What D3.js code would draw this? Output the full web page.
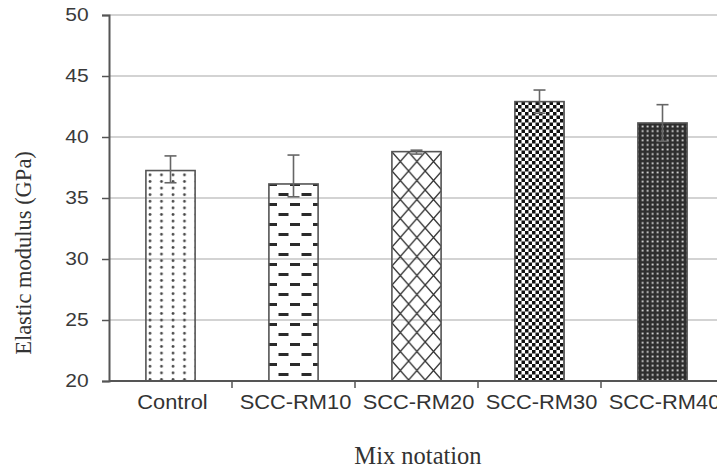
<!DOCTYPE html>
<html>
<head>
<meta charset="utf-8">
<script src="https://cdn.jsdelivr.net/npm/d3@7"></script>
<style>
  body { margin: 0; background: #fff; }
  svg { display: block; }
</style>
</head>
<body>
<div id="chart"></div>
<script>
// values
var categories = ["Control", "SCC-RM10", "SCC-RM20", "SCC-RM30", "SCC-RM40"];
var modulus = [37.25, 36.15, 38.8, 42.9, 41.15];
var errPlus = [1.2, 2.37, 0.12, 0.95, 1.5];
var errMinus = [1.0, 1.05, 0.2, 0.95, 1.5];
var yTicks = [20, 25, 30, 35, 40, 45, 50];
var patternIds = ["p-dots", "p-dash", "p-cross", "p-check", "p-dark"];

var width = 717, height = 468;
var plotLeft = 109, plotTop = 15, plotBottom = 381;

var svg = d3.select("#chart").append("svg")
    .attr("width", width)
    .attr("height", height);

svg.append("rect").attr("width", width).attr("height", height).attr("fill", "#fff");

// fill patterns
var defs = svg.append("defs");

var p = defs.append("pattern").attr("id", "p-dots")
    .attr("patternUnits", "userSpaceOnUse").attr("width", 11.5).attr("height", 6.6)
    .attr("x", 146);
p.append("circle").attr("cx", 4).attr("cy", 3.3).attr("r", 1.4).attr("fill", "#444");

p = defs.append("pattern").attr("id", "p-dash")
    .attr("patternUnits", "userSpaceOnUse").attr("width", 23).attr("height", 20)
    .attr("x", 146);
p.append("rect").attr("x", 6).attr("y", 3).attr("width", 10).attr("height", 3).attr("fill", "#2a2a2a");
p.append("rect").attr("x", -5.5).attr("y", 13).attr("width", 10).attr("height", 3).attr("fill", "#2a2a2a");
p.append("rect").attr("x", 17.5).attr("y", 13).attr("width", 10).attr("height", 3).attr("fill", "#2a2a2a");

p = defs.append("pattern").attr("id", "p-cross")
    .attr("patternUnits", "userSpaceOnUse").attr("width", 16.6).attr("height", 19)
    .attr("x", 392);
p.append("path").attr("d", "M0,0L16.6,19M16.6,0L0,19")
    .attr("stroke", "#333").attr("stroke-width", 1.4).attr("fill", "none");

p = defs.append("pattern").attr("id", "p-check")
    .attr("patternUnits", "userSpaceOnUse").attr("width", 7).attr("height", 7);
p.append("rect").attr("width", 7).attr("height", 7).attr("fill", "#fff");
p.append("rect").attr("width", 3.5).attr("height", 3.5).attr("fill", "#111");
p.append("rect").attr("x", 3.5).attr("y", 3.5).attr("width", 3.5).attr("height", 3.5).attr("fill", "#111");

p = defs.append("pattern").attr("id", "p-dark")
    .attr("patternUnits", "userSpaceOnUse").attr("width", 5).attr("height", 4.6);
p.append("rect").attr("width", 5).attr("height", 4.6).attr("fill", "#2e2e2e");
p.append("rect").attr("x", 1.6).attr("y", 1.4).attr("width", 2).attr("height", 1.8).attr("fill", "#cfcfcf");

// scales
var x = d3.scaleBand()
    .domain(categories)
    .range([plotLeft, plotLeft + 5 * 123])
    .paddingInner(0.6)
    .paddingOuter(0.3);

var y = d3.scaleLinear()
    .domain([20, 50])
    .range([plotBottom, plotTop]);

// gridlines
svg.append("g")
    .selectAll("line")
    .data(yTicks.filter(function(d) { return d > 20; }))
    .enter()
    .append("line")
    .attr("x1", plotLeft)
    .attr("x2", width)
    .attr("y1", function(d) { return y(d); })
    .attr("y2", function(d) { return y(d); })
    .attr("stroke", "#c4c4c4")
    .attr("stroke-width", 1.5);

// bars
svg.append("g")
    .selectAll("rect")
    .data(categories)
    .enter()
    .append("rect")
    .attr("x", function(c) { return x(c); })
    .attr("y", function(c, i) { return y(modulus[i]); })
    .attr("width", x.bandwidth())
    .attr("height", function(c, i) { return y(20) - y(modulus[i]); })
    .attr("fill", function(c, i) { return "url(#" + patternIds[i] + ")"; })
    .attr("stroke", "#555")
    .attr("stroke-width", 1.6);

// error bars
var eb = svg.append("g")
    .selectAll("g")
    .data(categories)
    .enter()
    .append("g")
    .attr("stroke", "#666")
    .attr("stroke-width", 1.6);

function cx(c) { return x(c) + x.bandwidth() / 2; }

eb.append("line")
    .attr("x1", cx).attr("x2", cx)
    .attr("y1", function(c, i) { return y(modulus[i] + errPlus[i]); })
    .attr("y2", function(c, i) { return y(modulus[i] - errMinus[i]); });
eb.append("line")
    .attr("x1", function(c) { return cx(c) - 6; })
    .attr("x2", function(c) { return cx(c) + 6; })
    .attr("y1", function(c, i) { return y(modulus[i] + errPlus[i]); })
    .attr("y2", function(c, i) { return y(modulus[i] + errPlus[i]); });
eb.append("line")
    .attr("x1", function(c) { return cx(c) - 6; })
    .attr("x2", function(c) { return cx(c) + 6; })
    .attr("y1", function(c, i) { return y(modulus[i] - errMinus[i]); })
    .attr("y2", function(c, i) { return y(modulus[i] - errMinus[i]); });

// y axis
var yAxis = d3.axisLeft(y)
    .tickValues(yTicks)
    .tickSize(7)
    .tickPadding(10);

var gy = svg.append("g")
    .attr("transform", "translate(" + plotLeft + ",0)")
    .call(yAxis);
gy.select(".domain").attr("stroke", "#555").attr("stroke-width", 2);
gy.selectAll(".tick line").attr("stroke", "#555").attr("stroke-width", 1.5);
gy.selectAll(".tick text")
    .attr("font-family", "Liberation Sans, Arial, sans-serif")
    .attr("font-size", 17.5)
    .attr("fill", "#3a3a3a")
    .attr("transform", "scale(1.2,1)");

// x axis: ticks at the category boundaries
var bounds = categories.map(function(c) { return x(c) - x.step() * x.paddingInner() / 2; });
var gx = svg.append("g");
gx.append("line")
    .attr("x1", plotLeft).attr("x2", width)
    .attr("y1", plotBottom).attr("y2", plotBottom)
    .attr("stroke", "#555").attr("stroke-width", 2);
gx.selectAll("line.tk")
    .data(bounds.slice(1))
    .enter()
    .append("line")
    .attr("class", "tk")
    .attr("x1", function(d) { return d; })
    .attr("x2", function(d) { return d; })
    .attr("y1", plotBottom)
    .attr("y2", plotBottom + 7)
    .attr("stroke", "#555")
    .attr("stroke-width", 1.5);
gx.selectAll("text")
    .data(categories)
    .enter()
    .append("text")
    .attr("transform", function(c) { return "translate(" + (cx(c) + 2) + "," + 409 + ") scale(1.12,1)"; })
    .attr("text-anchor", "middle")
    .attr("font-family", "Liberation Sans, Arial, sans-serif")
    .attr("font-size", 19.5)
    .attr("fill", "#333")
    .text(function(c) { return c; });

// axis titles
svg.append("text")
    .attr("x", 418)
    .attr("y", 464)
    .attr("text-anchor", "middle")
    .attr("font-family", "Liberation Serif, Times New Roman, serif")
    .attr("font-size", 24.5)
    .attr("fill", "#333")
    .text("Mix notation");

svg.append("text")
    .attr("transform", "translate(31,253) rotate(-90)")
    .attr("text-anchor", "middle")
    .attr("font-family", "Liberation Serif, Times New Roman, serif")
    .attr("font-size", 22.5)
    .attr("fill", "#333")
    .text("Elastic modulus (GPa)");
</script>
</body>
</html>
